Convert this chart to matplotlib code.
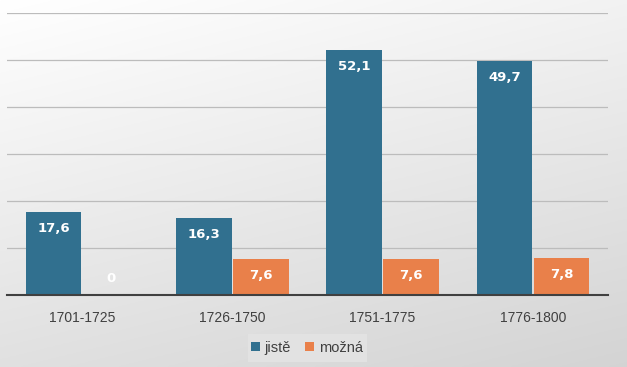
import numpy as np
import matplotlib
matplotlib.use("Agg")
import matplotlib.pyplot as plt
from matplotlib.patches import Rectangle

categories = ["1701-1725", "1726-1750", "1751-1775", "1776-1800"]
jiste = [17.6, 16.3, 52.1, 49.7]
mozna = [0, 7.6, 7.6, 7.8]
series_names = ["jistě", "možná"]
colors = ["#31708F", "#E9804A"]

W, H = 627, 367
fig = plt.figure(figsize=(W / 100, H / 100), dpi=100)

# background gradient (white top-left -> grey bottom-right)
bg = fig.add_axes([0, 0, 1, 1], zorder=-10)
yy, xx = np.mgrid[0:1:200j, 0:1:300j]
shade = 1.0 - 0.12 * yy - 0.05 * xx
bg.imshow(np.dstack([shade] * 3), aspect="auto", extent=[0, 1, 0, 1], origin="upper")
bg.axis("off")

ax = fig.add_axes([7 / W, 1 - 295 / H, (608 - 7) / W, (295 - 13) / H])
ax.patch.set_alpha(0)

x = np.arange(len(categories))
w = 0.37
off = 0.19
b1 = ax.bar(x - off, jiste, w, color=colors[0], label=series_names[0], zorder=3)
b2 = ax.bar(x + off, mozna, w, color=colors[1], label=series_names[1], zorder=3)

for bars, vals in [(b1, jiste), (b2, mozna)]:
    for r, v in zip(bars, vals):
        cx = r.get_x() + r.get_width() / 2
        label = f"{v:g}".replace(".", ",")
        if v > 0:
            ax.text(cx, v - 3.4, label, ha="center", va="center", color="white",
                    fontsize=9.5, fontweight="bold", zorder=4)
        else:
            ax.text(cx, 3.6, label, ha="center", va="center", color="white",
                    fontsize=9.5, fontweight="bold", zorder=4)

ax.set_xlim(-0.5, 3.5)
ax.set_ylim(0, 60)
ax.set_yticks(range(0, 61, 10))
ax.yaxis.grid(True, color="#bcbcbc", linewidth=0.9, zorder=0)
ax.tick_params(axis="y", left=False, labelleft=False)
ax.tick_params(axis="x", bottom=False, pad=8)
ax.set_xticks(x)
ax.set_xticklabels(categories, fontsize=10, color="#404040", family="Liberation Sans")
for s in ["top", "right", "left"]:
    ax.spines[s].set_visible(False)
ax.spines["bottom"].set_color("#404040")
ax.spines["bottom"].set_linewidth(1.5)
ax.spines["bottom"].set_zorder(5)

# legend with light box
fig.patches.append(Rectangle((248 / W, 1 - 362 / H), (367 - 248) / W, 28 / H,
                             transform=fig.transFigure, facecolor="#e2e2e2",
                             edgecolor="none", zorder=-5))
leg = fig.legend(loc="center", bbox_to_anchor=(307 / W, 1 - 348 / H), ncol=2,
                 frameon=False, handlelength=0.6, handleheight=0.6,
                 handletextpad=0.3, columnspacing=1.0,
                 prop={"family": "Liberation Sans", "size": 10.5})
for t in leg.get_texts():
    t.set_color("#404040")

fig.savefig("out.png", dpi=100)
